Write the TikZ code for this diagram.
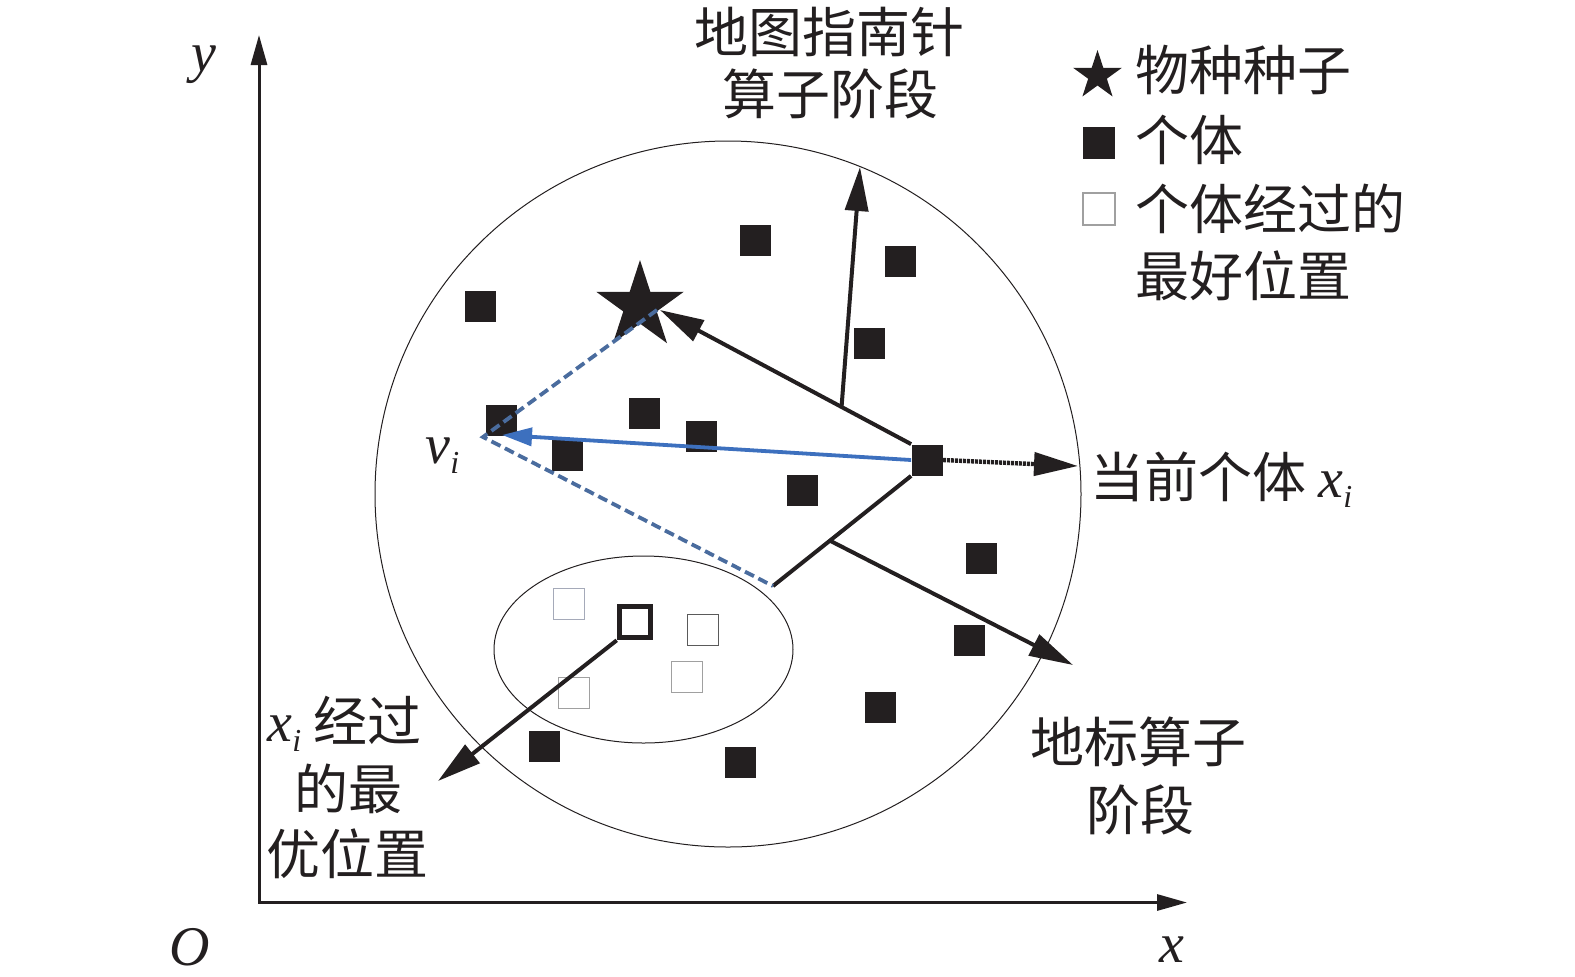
\documentclass[tikz,border=0pt]{standalone}
\usepackage{fontspec}
\setmainfont{Liberation Serif}
\newfontfamily\cjk{Noto Sans CJK SC}
\usetikzlibrary{arrows.meta,shapes.geometric,calc}
\definecolor{ink}{RGB}{35,31,32}
\definecolor{vblue}{RGB}{61,112,190}
\definecolor{dblue}{RGB}{74,108,158}
\definecolor{gA}{RGB}{165,170,185}
\definecolor{gB}{RGB}{90,90,90}
\definecolor{gC}{RGB}{160,160,160}
\newcommand\ivar[2]{{\rmfamily\itshape\fontsize{28}{32}\selectfont #1}\raisebox{-5pt}{\rmfamily\itshape\fontsize{16}{16}\selectfont #2}}
\begin{document}
\begin{tikzpicture}[x=0.5pt,y=-0.5pt,
  ind/.style={rectangle,fill=ink,minimum size=15.5pt,inner sep=0pt},
  best/.style={rectangle,draw=gA,line width=0.6pt,fill=white,minimum size=15.5pt,inner sep=0pt},
  seedstar/.style={star,star points=5,star point ratio=2.618,fill=ink,inner sep=0pt},
  arr/.style={line width=2pt,draw=ink,-{Triangle[length=22pt,width=11.5pt]}},
  plain/.style={line width=2pt,draw=ink,line join=miter},
  axisline/.style={line width=1.5pt,draw=ink,line join=miter,{Triangle[length=15pt,width=8pt]}-{Triangle[length=15pt,width=8pt]}},
  barr/.style={line width=1.9pt,draw=vblue,-{Triangle[length=15pt,width=9pt]}},
  bdash/.style={line width=1.9pt,draw=dblue,dash pattern=on 5pt off 2.5pt},
  dotarr/.style={line width=2.2pt,draw=ink,dash pattern=on 1.5pt off 0.5pt,-{Triangle[length=22pt,width=11.5pt]}},
  cn/.style={font=\cjk\fontsize{27}{31}\selectfont,inner sep=0pt,anchor=base,text=ink},
  lat/.style={font=\fontsize{28}{32}\selectfont\itshape,inner sep=0pt,anchor=base,text=ink}
]
\useasboundingbox (0,0) rectangle (1575,976);

% axes
\coordinate (O) at (259,902.5);
\coordinate (ytip) at (259,35);
\coordinate (xtip) at (1187,902.5);
\draw[axisline] (ytip) -- (O) -- (xtip);
\node[lat] (ylab) at (204,71) {y};
\node[lat] (olab) at (190,965) {O};
\node[lat] (xlab) at (1172,962) {x};

% regions
\node[circle,draw=ink,line width=0.5pt,minimum size=353pt,inner sep=0pt] (zone) at (728,494) {};
\node[ellipse,draw=ink,line width=0.5pt,minimum width=149.5pt,minimum height=93.5pt,inner sep=0pt] (memory) at (643.5,649.5) {};

% individuals
\node[ind] (s1) at (755,240) {};
\node[ind] (s2) at (900,261) {};
\node[ind] (s3) at (869.5,343) {};
\node[ind] (s4) at (480,306) {};
\node[ind] (s5) at (501,420) {};
\node[ind] (s6) at (644,413) {};
\node[ind] (s7) at (701,436) {};
\node[ind] (s8) at (567,455) {};
\node[ind] (s9) at (802,490) {};
\node[ind] (s11) at (981,558) {};
\node[ind] (s12) at (969,640) {};
\node[ind] (s13) at (880,707) {};
\node[ind] (s14) at (544,746) {};
\node[ind] (s15) at (740,762) {};
\node[ind] (cur) at (927,460) {};

% best positions
\node[best] (b1) at (569,604) {};
\node[best,draw=gB] (b2) at (703,630) {};
\node[best,draw=gC] (b3) at (687,677) {};
\node[best,draw=gC] (b4) at (574,693) {};
\node[rectangle,draw=ink,line width=2.5pt,minimum size=15.8pt,inner sep=0pt] (bestx) at (635,622) {};

% seed
\node[seedstar,minimum size=46pt] (seed) at (640,306) {};

% connectors
\coordinate (seedtip) at (660,310);
\coordinate (lc) at (773,586);
\coordinate (vi) at (483,437);
\coordinate (vtip) at (502,435);
\coordinate (dtip) at (657,310);
\coordinate (uptip) at (860,167);
\coordinate (lmtip) at (1073,665);
\coordinate (curtip) at (1078,466);
\coordinate (btip) at (438,781);

\draw[plain] (lc) -- (cur.south west);
\draw[arr] (cur.north west) -- (seedtip);
\draw[arr] ($(cur.north west)!0.277!(seedtip)$) -- (uptip);
\draw[arr] ($(cur.south west)!0.588!(lc)$) -- (lmtip);
\draw[dotarr] (cur.east) -- (curtip);
\draw[arr] (bestx.south west) -- (btip);
\draw[bdash] (dtip) -- (vi) -- (lc);
\draw[barr] (cur.west) -- (vtip);

% labels
\node[inner sep=0pt,anchor=base west,text=ink] (vlab) at (425,463) {\ivar{v}{i}};
\node[cn] (t1a) at (829,52) {地图指南针};
\node[cn] (t1b) at (830,114) {算子阶段};
\node[cn,anchor=base west] (t2) at (1090,497) {当前个体 \ivar{x}{i}};
\node[cn] (t3a) at (1138,762) {地标算子};
\node[cn] (t3b) at (1140,830) {阶段};
\node[cn,anchor=base west] (t4a) at (267,741) {\ivar{x}{i} 经过};
\node[cn] (t4b) at (348,809) {的最};
\node[cn] (t4c) at (347,874) {优位置};

% legend
\node[seedstar,minimum size=25.7pt] (lgstar) at (1097.5,75.7) {};
\node[ind,minimum size=16pt] (lgind) at (1099,142.5) {};
\node[best,draw=gC,minimum size=16pt] (lgbest) at (1099,209) {};
\node[cn,anchor=base west] (lg1) at (1135,90) {物种种子};
\node[cn,anchor=base west] (lg2) at (1135,160) {个体};
\node[cn,anchor=base west] (lg3) at (1135,229) {个体经过的};
\node[cn,anchor=base west] (lg4) at (1135,296) {最好位置};
\end{tikzpicture}
\end{document}
